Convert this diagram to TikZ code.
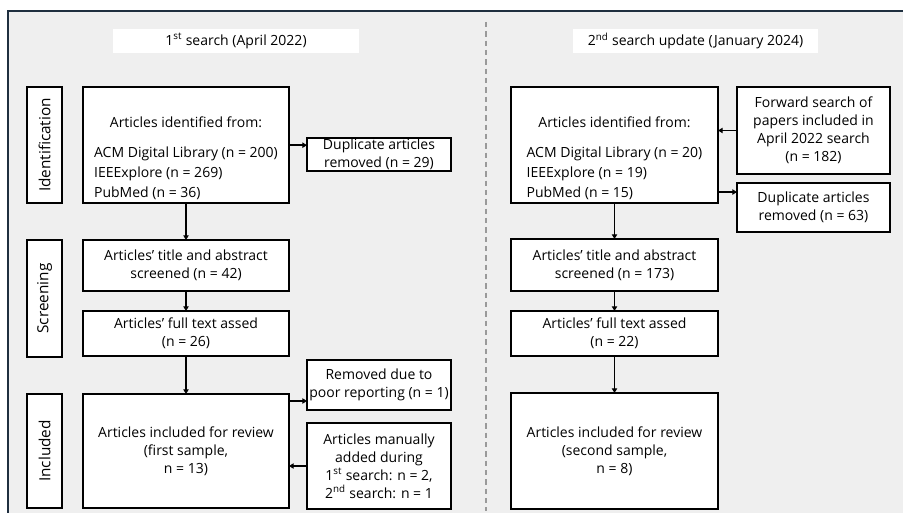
\documentclass[tikz,border=0pt]{standalone}
\usepackage{fontspec}
\setmainfont{Open Sans}
\usetikzlibrary{arrows.meta}
\usetikzlibrary{calc}
\definecolor{panelgrey}{HTML}{EFEFEF}
\definecolor{panelline}{HTML}{1F2F3F}
\definecolor{divgrey}{HTML}{9A9A9A}
\tikzset{%
    sz/.style 2 args={minimum width=#1*0.75pt,minimum height=#2*0.75pt},%
    flowbox/.style={draw=black,fill=white,line width=0.9pt,inner sep=0pt,outer sep=0pt,align=center,font=\fontsize{10.5}{13.5}\selectfont},%
    phasebox/.style={flowbox,rotate=90,font=\fontsize{11.5}{13.5}\selectfont},%
    headbox/.style={fill=white,inner sep=0pt,outer sep=0pt,font=\fontsize{10.5}{12}\selectfont},%
    arr/.style={line width=1.4pt,-{Triangle[length=3.5pt,width=4pt]}},%
}

\begin{document}
\begin{tikzpicture}[x=0.75pt,y=0.75pt,yscale=-1,xscale=1]
\useasboundingbox (0,0) rectangle (903,513);

%Shape: Panel
\fill [panelgrey] (8,11) rectangle (903,513);
\draw [panelline,line width=1pt] (8,513) -- (8,11) -- (903,11);
%Shape: Divider
\draw [divgrey,line width=0.8pt,dash pattern={on 4pt off 3pt}] (486,22) -- (486,511);

% Heading Nodes
\node (head1) at (236,41) [headbox,sz={246}{24}] {1\textsuperscript{st} search (April 2022)};
\node (head2) at (695.5,41) [headbox,sz={245}{24}] {2\textsuperscript{nd} search update (January 2024)};

% Phase Nodes
\node (phid) at (44.5,145) [phasebox,sz={116}{35}] {Identification};
\node (phscr) at (44.5,298.5) [phasebox,sz={117}{35}] {Screening};
\node (phinc) at (44.5,451) [phasebox,sz={114}{35}] {Included};

% First search
\node (ident1) at (186,145) [flowbox,sz={206}{116}] {\begin{tabular}{@{}l@{}}\multicolumn{1}{c}{\rule{0pt}{30pt}Articles identified from:}\\[9pt]
ACM Digital Library (n = 200)\\[1.5pt]IEEExplore (n = 269)\\[1.5pt]PubMed (n = 36)\end{tabular}};
\node (dup1) at (379,154.5) [flowbox,sz={144}{33}] {Duplicate articles\\removed (n = 29)};
\node (tiab1) at (186,265.5) [flowbox,sz={206}{51}] {Articles' title and abstract\\screened (n = 42)};
\node (full1) at (186,333.5) [flowbox,sz={206}{45}] {Articles' full text assed\\(n = 26)};
\node (incl1) at (186,451) [flowbox,sz={206}{114}] {Articles included for review\\(first sample,\\n = 13)};
\node (rem1) at (379,385) [flowbox,sz={144}{50}] {Removed due to\\poor reporting (n = 1)};
\node (man1) at (379,466) [flowbox,sz={144}{86}] {Articles manually\\added during\\1\textsuperscript{st} search: n = 2,\\2\textsuperscript{nd} search: n = 1};

% Second search
\node (ident2) at (614.5,145) [flowbox,sz={207}{116}] {\begin{tabular}{@{}l@{}}\multicolumn{1}{c}{\rule{0pt}{30pt}Articles identified from:}\\[9pt]
ACM Digital Library (n = 20)\\[1.5pt]IEEExplore (n = 19)\\[1.5pt]PubMed (n = 15)\end{tabular}};
\node (fwd2) at (813.5,130.5) [flowbox,sz={153}{87}] {Forward search of\\papers included in\\April 2022 search\\(n = 182)};
\node (dup2) at (813.5,207.5) [flowbox,sz={153}{49}] {Duplicate articles\\removed (n = 63)};
\node (tiab2) at (614.5,265) [flowbox,sz={207}{52}] {Articles' title and abstract\\screened (n = 173)};
\node (full2) at (614.5,333.5) [flowbox,sz={207}{45}] {Articles' full text assed\\(n = 22)};
\node (incl2) at (614.5,451) [flowbox,sz={207}{116}] {Articles included for review\\(second sample,\\n = 8)};

% Connectors (yscale=-1, so a negative yshift goes up)
\draw [arr] ([yshift=-7pt]ident1.east |- dup1.west) -- ([yshift=-7pt]dup1.west);
\draw [arr] (ident1) -- (tiab1);
\draw [arr] (tiab1) -- (full1);
\draw [arr] (full1) -- (incl1);
\draw [arr] ([yshift=12pt]incl1.east |- rem1.west) -- ([yshift=12pt]rem1.west);
\draw [arr] (man1.west) -- (man1.west -| incl1.east);

\draw [arr] (fwd2.west) -- (fwd2.west -| ident2.east);
\draw [arr] ([yshift=-11.6pt]ident2.east |- dup2.west) -- ([yshift=-11.6pt]dup2.west);
\draw [arr] (ident2) -- (tiab2);
\draw [arr] (tiab2) -- (full2);
\draw [arr] (full2) -- (incl2);

\end{tikzpicture}
\end{document}
